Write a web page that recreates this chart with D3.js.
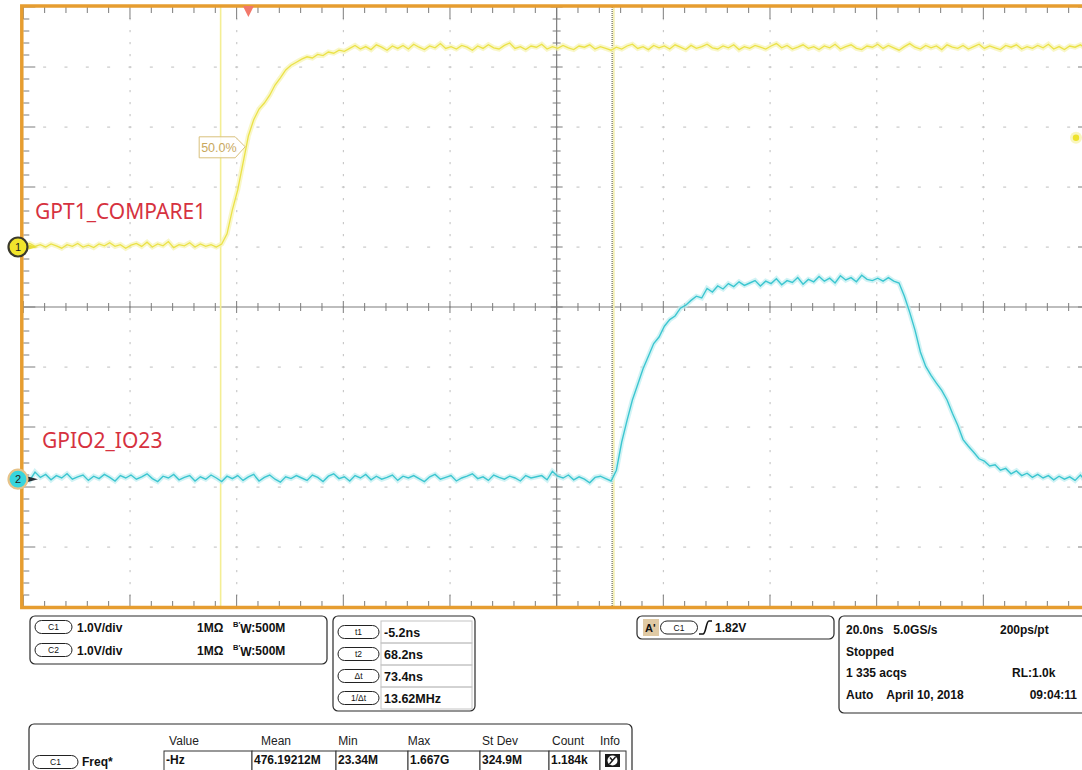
<!DOCTYPE html>
<html>
<head>
<meta charset="UTF-8">
<script src="https://d3js.org/d3.v7.min.js"></script>
<style>
    body { margin: 0; background: #fff; }
    svg { display: block; font-family: "Liberation Sans", Arial, sans-serif; }
</style>
</head>
<body>
<svg id="scope" width="1082" height="770"></svg>
<script>

// ---- data ----
var sampleStartNs = -42;   // first sample time
var sampleStepNs = 1;      // one sample per ns

// C1 (yellow) volts
var ch1Volts = [
    0.03, 0.06, 0.01, 0.04, 0.00, 0.05, 0.02, -0.02, 0.04, 0.01,
    0.06, 0.00, 0.03, -0.01, 0.05, 0.02, 0.07, 0.01, 0.04, -0.02,
    0.03, 0.06, 0.01, 0.08, 0.00, 0.05, 0.02, 0.09, -0.01, 0.04,
    0.02, 0.07, 0.00, 0.05, 0.01, 0.04, 0.00, 0.05, 0.22, 0.62,
    0.95, 1.40, 1.85, 2.12, 2.30, 2.40, 2.53, 2.70, 2.82, 2.95,
    3.03, 3.08, 3.13, 3.17, 3.15, 3.21, 3.19, 3.25, 3.23, 3.28,
    3.26, 3.31, 3.36, 3.30, 3.34, 3.29, 3.37, 3.33, 3.28, 3.35,
    3.31, 3.36, 3.30, 3.38, 3.33, 3.29, 3.35, 3.32, 3.39, 3.31,
    3.34, 3.30, 3.36, 3.33, 3.28, 3.35, 3.31, 3.37, 3.32, 3.30,
    3.36, 3.40, 3.31, 3.34, 3.29, 3.35, 3.33, 3.38, 3.30, 3.34,
    3.31, 3.36, 3.32, 3.29, 3.35, 3.33, 3.37, 3.30, 3.34, 3.31,
    3.28, 3.33, 3.30, 3.35, 3.38, 3.31, 3.34, 3.29, 3.36, 3.32,
    3.35, 3.30, 3.37, 3.33, 3.29, 3.36, 3.31, 3.34, 3.38, 3.32,
    3.30, 3.35, 3.32, 3.37, 3.29, 3.34, 3.31, 3.36, 3.33, 3.30,
    3.35, 3.39, 3.32, 3.36, 3.30, 3.33, 3.37, 3.31, 3.34, 3.29,
    3.35, 3.32, 3.38, 3.30, 3.34, 3.37, 3.31, 3.29, 3.35, 3.33,
    3.38, 3.31, 3.36, 3.32, 3.28, 3.34, 3.39, 3.33, 3.30, 3.36,
    3.32, 3.35, 3.29, 3.37, 3.33, 3.31, 3.36, 3.30, 3.34, 3.38,
    3.31, 3.35, 3.32, 3.29, 3.36, 3.33, 3.37, 3.30, 3.34, 3.31,
    3.36, 3.32, 3.38, 3.30, 3.34, 3.29, 3.35, 3.33, 3.37, 3.31, 3.34
];

// C2 (cyan) volts
var ch2Volts = [
    0.05, -0.02, 0.12, 0.03, 0.08, -0.01, 0.06, 0.02, 0.09, 0.00,
    0.04, 0.07, -0.02, 0.05, 0.01, 0.08, 0.03, -0.03, 0.06, 0.02,
    0.07, 0.00, 0.04, 0.09, 0.01, -0.04, 0.05, 0.02, 0.08, -0.01,
    0.03, 0.06, -0.03, 0.04, 0.00, 0.07, 0.02, -0.04, 0.05, 0.01,
    0.06, -0.02, 0.04, 0.08, -0.03, 0.03, 0.07, 0.00, -0.05, 0.04,
    0.01, 0.06, 0.02, -0.02, 0.07, 0.03, -0.04, 0.05, 0.09, 0.01,
    0.04, -0.03, 0.06, 0.02, 0.08, -0.01, 0.05, 0.00, 0.03, 0.07,
    -0.02, 0.05, 0.02, 0.06, 0.01, -0.04, 0.04, 0.08, 0.00, 0.03,
    0.06, -0.03, 0.02, 0.05, 0.09, 0.01, 0.04, -0.02, 0.07, 0.03,
    0.00, 0.05, 0.02, -0.03, 0.06, 0.02, 0.04, 0.06, -0.01, 0.13,
    0.05, 0.02, 0.07, -0.01, 0.04, 0.00, -0.06, 0.03, 0.05, 0.01,
    -0.03, 0.15, 0.62, 0.98, 1.32, 1.58, 1.84, 2.05, 2.26, 2.37,
    2.55, 2.66, 2.72, 2.85, 2.90, 2.98, 3.05, 3.02, 3.18, 3.12,
    3.22, 3.17, 3.26, 3.21, 3.29, 3.23, 3.27, 3.31, 3.22, 3.30,
    3.26, 3.34, 3.24, 3.31, 3.28, 3.36, 3.25, 3.33, 3.29, 3.38,
    3.30, 3.35, 3.27, 3.39, 3.32, 3.36, 3.29, 3.40, 3.33, 3.31,
    3.35, 3.30, 3.36, 3.30, 3.27, 3.05, 2.78, 2.48, 2.12, 1.88,
    1.73, 1.60, 1.48, 1.32, 1.10, 0.90, 0.66, 0.55, 0.45, 0.34,
    0.30, 0.22, 0.24, 0.15, 0.18, 0.09, 0.14, 0.06, 0.10, 0.03,
    0.08, 0.02, 0.06, -0.01, 0.05, 0.00, 0.04, -0.02, 0.07, -0.04, 0.03
];

var screenTimeNs = [-42.2, 157.8];       // 20 ns/div, 10 div
var ch1GroundDiv = 4;                     // divisions below top
var ch2GroundDiv = 7.87;
var cursorTimesNs = [-5.2, 68.2];
var triggerTimeNs = 0;
var triggerLevelV = 1.82;
var refLevelPct = "50.0%";
var refLevelV = 1.67;

var channelNames = ["GPT1_COMPARE1", "GPIO2_IO23"];
var channelIds = ["C1", "C2"];
var channelScales = ["1.0V/div", "1.0V/div"];
var channelImpedance = ["1MΩ", "1MΩ"];
var channelBandwidth = ["500M", "500M"];

var cursorNames = ["t1", "t2", "Δt", "1/Δt"];
var cursorValues = ["-5.2ns", "68.2ns", "73.4ns", "13.62MHz"];

var timebaseLeft = ["20.0ns   5.0GS/s", "Stopped", "1 335 acqs", "Auto    April 10, 2018"];
var timebaseRight = ["200ps/pt", "", "RL:1.0k", "09:04:11"];

var measHeaders = ["Value", "Mean", "Min", "Max", "St Dev", "Count", "Info"];
var measValues = ["-Hz", "476.19212M", "23.34M", "1.667G", "324.9M", "1.184k"];

// ---- layout ----
var svg = d3.select("#scope");
var plot = {left: 23.3, right: 1090, top: 7, bottom: 607};

var divX = d3.scaleLinear().domain([0, 10]).range([plot.left, plot.right]);
var divY = d3.scaleLinear().domain([0, 10]).range([plot.top, plot.bottom]);
var xTime = d3.scaleLinear().domain(screenTimeNs).range([plot.left, plot.right]);
var yCh1 = d3.scaleLinear().domain([ch1GroundDiv, ch1GroundDiv - 10]).range([plot.top, plot.bottom]);
var yCh2 = d3.scaleLinear().domain([ch2GroundDiv, ch2GroundDiv - 10]).range([plot.top, plot.bottom]);

var minorSteps = d3.range(0, 10.001, 0.2);
var gridColor = "#c9c9c9";
var tickColor = "#7c7c7c";

svg.append("defs").append("clipPath").attr("id", "plotClip")
    .append("rect")
    .attr("x", plot.left).attr("y", plot.top)
    .attr("width", plot.right - plot.left).attr("height", plot.bottom - plot.top);

var grid = svg.append("g");

// dotted graticule
[1, 2, 3, 4, 6, 7, 8, 9].forEach(function(i){
    grid.selectAll(null).data(minorSteps.slice(1, -1)).enter().append("rect")
        .attr("x", divX(i) - 0.5).attr("y", function(d){ return divY(d) - 1; })
        .attr("width", 1.2).attr("height", 2.2).attr("fill", gridColor);
    grid.selectAll(null).data(minorSteps.slice(1, -1)).enter().append("rect")
        .attr("x", function(d){ return divX(d) - 1.5; }).attr("y", divY(i) - 0.5)
        .attr("width", 3).attr("height", 1.2).attr("fill", gridColor);
});

// centre axes
grid.append("line").attr("x1", plot.left).attr("x2", plot.right)
    .attr("y1", divY(5)).attr("y2", divY(5)).attr("stroke", tickColor).attr("stroke-width", 1.2);
grid.append("line").attr("y1", plot.top).attr("y2", plot.bottom)
    .attr("x1", divX(5)).attr("x2", divX(5)).attr("stroke", tickColor).attr("stroke-width", 1.2);

function isMajor(d){ return Math.abs(d - Math.round(d)) < 0.01; }

grid.selectAll(null).data(minorSteps).enter().append("line")
    .attr("x1", function(d){ return divX(d); }).attr("x2", function(d){ return divX(d); })
    .attr("y1", function(d){ return divY(5) - (isMajor(d) ? 6 : 4); })
    .attr("y2", function(d){ return divY(5) + (isMajor(d) ? 6 : 4); })
    .attr("stroke", tickColor).attr("stroke-width", 1);
grid.selectAll(null).data(minorSteps).enter().append("line")
    .attr("y1", function(d){ return divY(d); }).attr("y2", function(d){ return divY(d); })
    .attr("x1", function(d){ return divX(5) - (isMajor(d) ? 6 : 4); })
    .attr("x2", function(d){ return divX(5) + (isMajor(d) ? 6 : 4); })
    .attr("stroke", tickColor).attr("stroke-width", 1);

// border ticks
grid.selectAll(null).data(minorSteps).enter().append("line")
    .attr("x1", function(d){ return divX(d); }).attr("x2", function(d){ return divX(d); })
    .attr("y1", plot.top).attr("y2", function(d){ return plot.top + (isMajor(d) ? 12 : 6); })
    .attr("stroke", tickColor);
grid.selectAll(null).data(minorSteps).enter().append("line")
    .attr("x1", function(d){ return divX(d); }).attr("x2", function(d){ return divX(d); })
    .attr("y1", plot.bottom).attr("y2", function(d){ return plot.bottom - (isMajor(d) ? 12 : 6); })
    .attr("stroke", tickColor);
grid.selectAll(null).data(minorSteps).enter().append("line")
    .attr("y1", function(d){ return divY(d); }).attr("y2", function(d){ return divY(d); })
    .attr("x1", plot.left).attr("x2", function(d){ return plot.left + (isMajor(d) ? 12 : 6); })
    .attr("stroke", tickColor);
grid.selectAll(null).data(minorSteps).enter().append("line")
    .attr("y1", function(d){ return divY(d); }).attr("y2", function(d){ return divY(d); })
    .attr("x1", plot.right).attr("x2", function(d){ return plot.right - (isMajor(d) ? 12 : 6); })
    .attr("stroke", tickColor);

// cursors
svg.append("line")
    .attr("x1", xTime(cursorTimesNs[0])).attr("x2", xTime(cursorTimesNs[0]))
    .attr("y1", plot.top).attr("y2", plot.bottom)
    .attr("stroke", "#f4ee94").attr("stroke-width", 1.6);
svg.append("line")
    .attr("x1", xTime(cursorTimesNs[1]) + 1.6).attr("x2", xTime(cursorTimesNs[1]) + 1.6)
    .attr("y1", plot.top).attr("y2", plot.bottom)
    .attr("stroke", "#f3efb4").attr("stroke-width", 2);
svg.append("line")
    .attr("x1", xTime(cursorTimesNs[1])).attr("x2", xTime(cursorTimesNs[1]))
    .attr("y1", plot.top).attr("y2", plot.bottom)
    .attr("stroke", "#4a4a3a").attr("stroke-width", 1).attr("stroke-dasharray", "1,1");

// traces
function traceLine(yScale){
    return d3.line()
        .x(function(d, i){ return xTime(sampleStartNs + i * sampleStepNs); })
        .y(function(d){ return yScale(d); });
}
var traces = svg.append("g").attr("clip-path", "url(#plotClip)");
traces.append("path").datum(ch1Volts).attr("d", traceLine(yCh1))
    .attr("fill", "none").attr("stroke", "#f7f3b0").attr("stroke-width", 5).attr("opacity", 0.7);
traces.append("path").datum(ch1Volts).attr("d", traceLine(yCh1))
    .attr("fill", "none").attr("stroke", "#ebe248").attr("stroke-width", 1.3);
traces.append("path").datum(ch2Volts).attr("d", traceLine(yCh2))
    .attr("fill", "none").attr("stroke", "#bdeef1").attr("stroke-width", 5).attr("opacity", 0.7);
traces.append("path").datum(ch2Volts).attr("d", traceLine(yCh2))
    .attr("fill", "none").attr("stroke", "#3cc6d0").attr("stroke-width", 1.4);

// 50% reference label
var refX = xTime(-0.6), refY = yCh1(refLevelV);
svg.append("path")
    .attr("d", "M" + (refX - 46) + "," + (refY - 10) + "H" + (refX - 10) + "L" + refX + "," + refY +
        "L" + (refX - 10) + "," + (refY + 11) + "H" + (refX - 46) + "Z")
    .attr("fill", "rgba(255,255,255,0.8)").attr("stroke", "#d9c07c").attr("stroke-width", 1);
svg.append("text").attr("x", refX - 44).attr("y", refY + 5)
    .attr("font-size", 12.5).attr("fill", "#c9a85e").text(refLevelPct);

// channel names
svg.append("text").attr("x", 35).attr("y", 219).attr("font-family", "'Noto Sans', sans-serif")
    .attr("font-size", 21).attr("fill", "#d6323f").text(channelNames[0]);
svg.append("text").attr("x", 42).attr("y", 448).attr("font-family", "'Noto Sans', sans-serif")
    .attr("font-size", 21).attr("fill", "#d6323f").text(channelNames[1]);

// border
svg.append("rect")
    .attr("x", plot.left - 1.5).attr("y", plot.top - 1)
    .attr("width", plot.right - plot.left + 20).attr("height", plot.bottom - plot.top + 1.5)
    .attr("fill", "none").attr("stroke", "#e69d30").attr("stroke-width", 3.5);

// trigger position marker
var tx = xTime(triggerTimeNs);
svg.append("path")
    .attr("d", "M" + (tx - 5.5) + "," + (plot.top - 1) + "L" + (tx + 5.5) + "," + (plot.top - 1) + "L" + tx + "," + (plot.top + 10) + "Z")
    .attr("fill", "#f2786a");

// trigger level marker
svg.append("circle").attr("cx", 1076).attr("cy", yCh1(triggerLevelV)).attr("r", 6)
    .attr("fill", "#f8f4b0").attr("opacity", 0.8);
svg.append("circle").attr("cx", 1076).attr("cy", yCh1(triggerLevelV)).attr("r", 3.2)
    .attr("fill", "#eee22c");

// ground markers
function groundMarker(gy, fill, ring, arrow, label){
    svg.append("path")
        .attr("d", "M25," + (gy - 3.5) + "L38," + gy + "L25," + (gy + 3.5) + "Z")
        .attr("fill", arrow);
    svg.append("circle").attr("cx", 18).attr("cy", gy).attr("r", 9.5)
        .attr("fill", fill).attr("stroke", ring).attr("stroke-width", 2.2);
    svg.append("text").attr("x", 18).attr("y", gy + 4).attr("text-anchor", "middle")
        .attr("font-size", 11).attr("fill", "#222").text(label);
}
groundMarker(yCh1(0), "#f1e52c", "#3b3a2c", "#e8de3a", "1");
groundMarker(yCh2(0), "#38d5dd", "#e7c389", "#243038", "2");

// ---- info panels ----
var info = svg.append("g").attr("font-weight", "bold").attr("fill", "#111");

function pill(cx, cy, w, label){
    info.append("rect").attr("x", cx - w / 2).attr("y", cy - 6.5).attr("width", w).attr("height", 13)
        .attr("rx", 6.5).attr("fill", "#fff").attr("stroke", "#222").attr("stroke-width", 1);
    info.append("text").attr("x", cx).attr("y", cy + 3.3).attr("text-anchor", "middle")
        .attr("font-size", 8.5).attr("font-weight", "normal").text(label);
}
function box(x, y, w, h){
    info.append("rect").attr("x", x).attr("y", y).attr("width", w).attr("height", h)
        .attr("rx", 5).attr("fill", "#fff").attr("stroke", "#2a2a2a").attr("stroke-width", 1.2);
}

// channel settings
box(30, 616, 297, 48);
channelIds.forEach(function(c, i){
    var cy = 627 + i * 23;
    pill(53.5, cy, 37, c);
    info.append("text").attr("x", 77).attr("y", cy + 4.5).attr("font-size", 12).text(channelScales[i]);
    info.append("text").attr("x", 197).attr("y", cy + 4.5).attr("font-size", 12).text(channelImpedance[i]);
    var bw = info.append("text").attr("x", 233).attr("y", cy + 4.5).attr("font-size", 12);
    bw.append("tspan").attr("font-size", 7.5).attr("dy", -5).text("B′");
    bw.append("tspan").attr("dy", 6.5).text("W");
    bw.append("tspan").attr("dy", -1.5).text(":" + channelBandwidth[i]);
});

// cursor readout
box(333, 616, 142, 95);
cursorNames.forEach(function(c, i){
    var top = 621 + i * 22;
    info.append("rect").attr("x", 381).attr("y", top).attr("width", 91).attr("height", 22)
        .attr("fill", "none").attr("stroke", "#c4c4c4").attr("stroke-width", 1);
    pill(358.5, top + 11, 41, c);
    info.append("text").attr("x", 384).attr("y", top + 15.5).attr("font-size", 12.5).text(cursorValues[i]);
});

// trigger
box(637, 616, 197, 23);
info.append("rect").attr("x", 643).attr("y", 619).attr("width", 16).attr("height", 17).attr("fill", "#e0caa4");
info.append("text").attr("x", 645).attr("y", 632).attr("font-size", 11).text("A'");
pill(679, 627.5, 37, channelIds[0]);
info.append("path").attr("d", "M699,634 H703 C706,634 706,621 709,621 H712")
    .attr("fill", "none").attr("stroke", "#111").attr("stroke-width", 1.6);
info.append("text").attr("x", 715).attr("y", 632).attr("font-size", 12).text(triggerLevelV.toFixed(2) + "V");

// timebase
box(839, 616, 270, 97);
timebaseLeft.forEach(function(t, i){
    var by = 634 + i * 21.5;
    info.append("text").attr("x", 846).attr("y", by).attr("font-size", 12)
        .attr("xml:space", "preserve").style("white-space", "pre").text(t);
    if (timebaseRight[i]) {
        var rx = i === 3 ? 1077 : (i === 0 ? 1000 : 1012);
        info.append("text").attr("x", rx).attr("y", by).attr("font-size", 12)
            .attr("text-anchor", i === 3 ? "end" : "start").text(timebaseRight[i]);
    }
});

// measurement table
box(29, 724, 603, 60);
var headerX = [184, 276, 348, 419, 500, 568, 610];
measHeaders.forEach(function(h, i){
    info.append("text").attr("x", headerX[i]).attr("y", 745).attr("text-anchor", "middle")
        .attr("font-size", 12).attr("font-weight", "normal").attr("fill", "#222").text(h);
});
var cellEdges = [164, 252, 336, 408, 480, 549, 600, 626];
var cellX = d3.scaleOrdinal().domain(d3.range(7)).range(cellEdges);
d3.range(7).forEach(function(i){
    info.append("rect").attr("x", cellX(i)).attr("y", 751)
        .attr("width", cellEdges[i + 1] - cellEdges[i]).attr("height", 22)
        .attr("fill", "#fff").attr("stroke", "#333").attr("stroke-width", 1);
});
measValues.forEach(function(v, i){
    info.append("text").attr("x", cellX(i) + 2).attr("y", 764).attr("font-size", 12).text(v);
});
pill(55.5, 762, 45, channelIds[0]);
info.append("text").attr("x", 82).attr("y", 766).attr("font-size", 12).text("Freq*");
// info icon
info.append("rect").attr("x", 605).attr("y", 754).attr("width", 15).attr("height", 13).attr("fill", "#1a1a1a");
info.append("circle").attr("cx", 612.5).attr("cy", 760.5).attr("r", 5).attr("fill", "#fff");
info.append("path").attr("d", "M609.5,764 L615.5,757 M610,757.5 L612.5,760.5")
    .attr("stroke", "#1a1a1a").attr("stroke-width", 1.5).attr("fill", "none");

</script>
</body>
</html>
